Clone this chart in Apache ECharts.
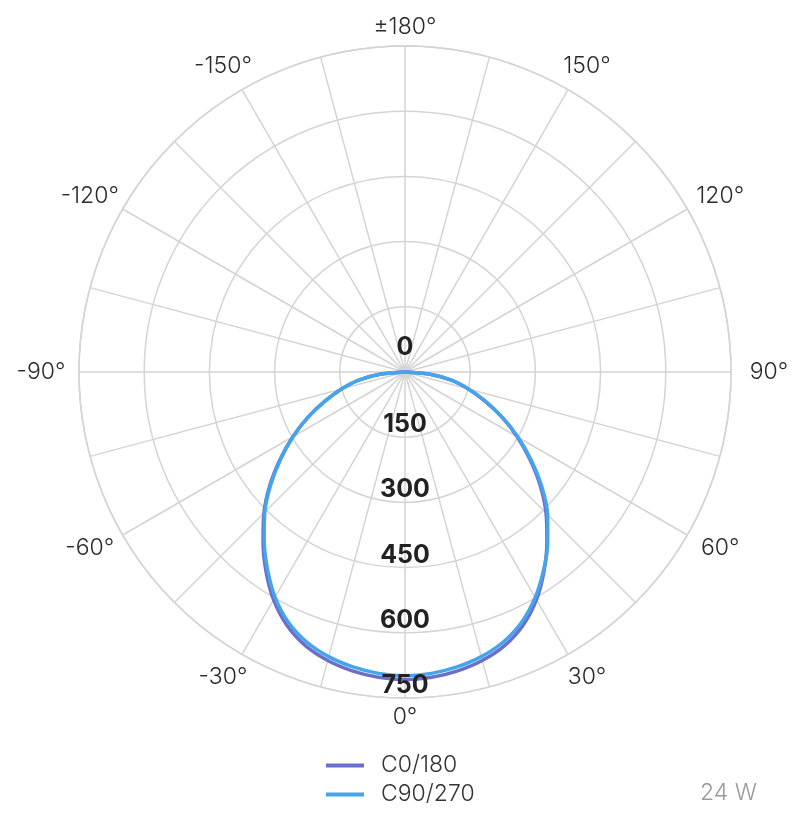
<!DOCTYPE html>
<html>
<head>
<meta charset="utf-8">
<script src="https://cdn.jsdelivr.net/npm/echarts@6/dist/echarts.min.js"></script>
<style>
html,body{margin:0;padding:0;background:#fff;}
#chart{width:800px;height:823px;}
</style>
</head>
<body>
<div id="chart"></div>
<script>
// gamma angles (deg), 0 = straight down, positive = to the right
var gammaAngles = [-90,-85,-80,-75,-70,-65,-60,-55,-50,-45,-40,-35,-30,-25,-20,-15,-10,-5,0,5,10,15,20,25,30,35,40,45,50,55,60,65,70,75,80,85,90];
// luminous intensity values
var c0_180 = [0,55,108,151,196,246,298,351,406,459,508,558,605,643,670,687,698,705,708,705,698,687,670,643,605,558,508,459,406,351,298,246,196,151,108,55,0];
var c90_270 = [0,55,108,151,196,246,297,349,403,456,504,552,598,635,661,678,689,696,699,696,689,678,661,635,599,556,511,464,411,355,301,248,197,151,108,55,0];
var seriesNames = ['C0/180','C90/270'];
var radiusTicks = [0,150,300,450,600,750];
var angleTickStep = 15;
var angleLabelValues = [0,30,60,90,120,150,180,-150,-120,-90,-60,-30];
var angleLabelTexts = ['0\u00b0','30\u00b0','60\u00b0','90\u00b0','120\u00b0','150\u00b0','\u00b1180\u00b0','-150\u00b0','-120\u00b0','-90\u00b0','-60\u00b0','-30\u00b0'];
var powerLabel = '24 W';

function toAxis(a){ return a < 0 ? a + 360 : a; }
function pairs(vals){
  return gammaAngles.map(function(a,i){ return [vals[i], toAxis(a)]; });
}

var gridColor = '#d4d4d4';
var center = [405, 372];
var radius = 326;
var rMax = radiusTicks[radiusTicks.length-1];

// angle labels: centred just outside the outer ring
var angleLabelData = angleLabelValues.map(function(a,i){
  var rad = a * Math.PI / 180;
  var kx = 38, ky = 19 + 9 * Math.abs(Math.sin(2*rad));
  return {
    value:[rMax, toAxis(a)],
    label:{formatter:angleLabelTexts[i], offset:[kx*Math.sin(rad), ky*Math.cos(rad)]}
  };
});

var chart = echarts.init(document.getElementById('chart'), null, {renderer:'canvas'});
chart.setOption({
  backgroundColor:'#ffffff',
  animation:false,
  title:{
    text: powerLabel,
    right: 38, top: 777,
    textStyle:{fontFamily:'Inter', fontWeight:300, fontSize:23, color:'#9a9a9a'}
  },
  legend:{
    orient:'vertical',
    left: 321, top: 749,
    itemWidth: 38, itemHeight: 14, itemGap: 6,
    icon: 'path://M0,0 L38,0 L38,4 L0,4 Z',
    textStyle:{fontFamily:'Inter', fontWeight:300, fontSize:23, color:'#333', lineHeight:21, padding:[0,0,0,12]},
    data: seriesNames
  },
  polar:[
    {center:center, radius:radius},
    {center:center, radius:radius}
  ],
  angleAxis:[
    {
      polarIndex:0,
      type:'value', min:0, max:360, interval:angleTickStep,
      startAngle:-90, clockwise:false,
      axisLine:{show:true, lineStyle:{color:gridColor, width:1.5}},
      axisTick:{show:false},
      splitLine:{show:true, lineStyle:{color:gridColor, width:1.5}},
      axisLabel:{show:false}
    },
    {
      polarIndex:1, show:false,
      type:'value', min:0, max:360, interval:angleTickStep,
      startAngle:-90, clockwise:false
    }
  ],
  radiusAxis:[
    {
      polarIndex:0,
      type:'value', min:radiusTicks[0], max:rMax, interval:radiusTicks[1]-radiusTicks[0],
      axisLine:{show:false}, axisTick:{show:false},
      axisLabel:{show:false},
      splitLine:{show:true, lineStyle:{color:gridColor, width:1.5}}
    },
    {
      polarIndex:1, z:10,
      type:'value', min:radiusTicks[0], max:rMax, interval:radiusTicks[1]-radiusTicks[0],
      axisLine:{show:false}, axisTick:{show:false},
      splitLine:{show:false},
      axisLabel:{
        show:true, margin:0, align:'center', verticalAlign:'bottom',
        fontFamily:'Inter', fontWeight:700, fontSize:25, color:'#222',
        formatter:function(v){ return v === 0 ? '{z|0}' : String(v); },
        rich:{ z:{fontFamily:'Inter', fontWeight:700, fontSize:25, color:'#222', padding:[0,0,12,0]} }
      }
    }
  ],
  series:[
    {
      name:seriesNames[0], type:'line', coordinateSystem:'polar', polarIndex:0,
      data:pairs(c0_180), smooth:0.3, showSymbol:false, symbol:'none',
      lineStyle:{color:'#6a6fc9', width:3.5}, itemStyle:{color:'#6a6fc9'}, z:3
    },
    {
      name:seriesNames[1], type:'line', coordinateSystem:'polar', polarIndex:0,
      data:pairs(c90_270), smooth:0.3, showSymbol:false, symbol:'none',
      lineStyle:{color:'#45a4ec', width:3.5}, itemStyle:{color:'#45a4ec'}, z:4
    },
    {
      name:'angleLabels', type:'scatter', coordinateSystem:'polar', polarIndex:1,
      data:angleLabelData, symbol:'circle', symbolSize:1, clip:false, silent:true,
      itemStyle:{color:'#ffffff', opacity:0},
      label:{show:true, position:'inside', fontFamily:'Inter', fontWeight:300, fontSize:23,
        color:'#2a2a2a', opacity:1, textBorderWidth:0, textBorderColor:'transparent'},
      emphasis:{disabled:true},
      z:5
    }
  ]
});
</script>
</body>
</html>
